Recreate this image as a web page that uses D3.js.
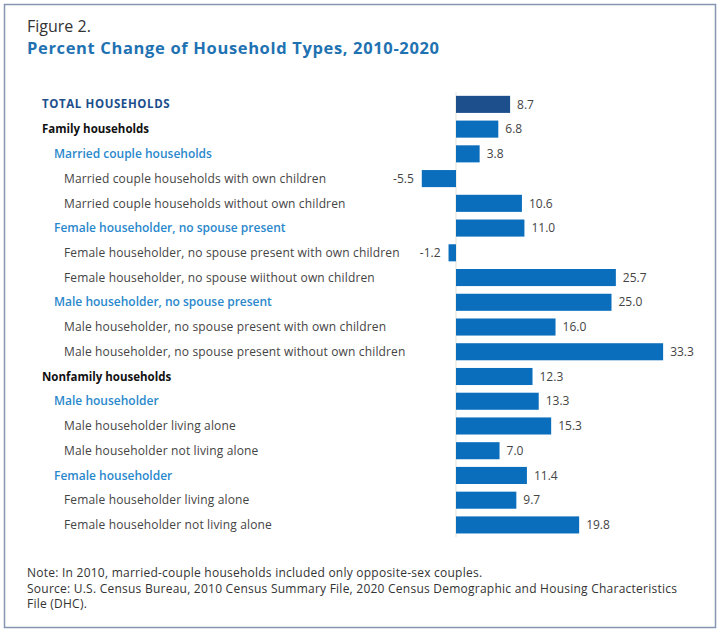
<!DOCTYPE html>
<html>
<head>
<meta charset="utf-8">
<script src="https://cdn.jsdelivr.net/npm/d3@7"></script>
<style>
  body { margin: 0; background: #fff; }
  svg { display: block; font-family: "Open Sans", "Noto Sans", sans-serif; }
</style>
</head>
<body>
<div id="chart"></div>
<script>
// Household categories, in display order
const categories = [
  'TOTAL HOUSEHOLDS',
  'Family households',
  'Married couple households',
  'Married couple households with own children',
  'Married couple households without own children',
  'Female householder, no spouse present',
  'Female householder, no spouse present with own children',
  'Female householder, no spouse wiithout own children',
  'Male householder, no spouse present',
  'Male householder, no spouse present with own children',
  'Male householder, no spouse present without own children',
  'Nonfamily households',
  'Male householder',
  'Male householder living alone',
  'Male householder not living alone',
  'Female householder',
  'Female householder living alone',
  'Female householder not living alone'
];

// Indent level of each category
const levels = [0, 0, 1, 2, 2, 1, 2, 2, 1, 2, 2, 0, 1, 2, 2, 1, 2, 2];

// Percent change 2010-2020
const values = [8.7, 6.8, 3.8, -5.5, 10.6, 11.0, -1.2, 25.7, 25.0, 16.0, 33.3,
                12.3, 13.3, 15.3, 7.0, 11.4, 9.7, 19.8];

const noteLines = [
  'Note: In 2010, married-couple households included only opposite-sex couples.',
  'Source: U.S. Census Bureau, 2010 Census Summary File, 2020 Census Demographic and Housing Characteristics',
  'File (DHC).'
];

const width = 720;
const height = 636;

const svg = d3.select('#chart')
  .append('svg')
  .attr('width', width)
  .attr('height', height);

// Frame
svg.append('rect')
  .attr('x', 4.5)
  .attr('y', 4.5)
  .attr('width', 711)
  .attr('height', 623)
  .attr('fill', '#fff')
  .attr('stroke', '#8796b0')
  .attr('stroke-width', 1.5);

// Titles
svg.append('text')
  .attr('x', 27)
  .attr('y', 31.5)
  .attr('font-size', '16px')
  .attr('fill', '#333')
  .text('Figure 2.');

svg.append('text')
  .attr('x', 27)
  .attr('y', 54)
  .attr('font-size', '16.5px')
  .attr('letter-spacing', '0.65px')
  .attr('font-weight', 'bold')
  .attr('fill', '#1f72b2')
  .text('Percent Change of Household Types, 2010-2020');

// Scales
const y = d3.scaleBand()
  .domain(d3.range(categories.length))
  .range([92, 537.3])
  .paddingInner(0.31)
  .paddingOuter(0.155);

const x = d3.scaleLinear()
  .domain([-10, 40])
  .range([393.8, 704.8]);

const g = svg.append('g');

// Faint zero line
g.append('line')
  .attr('x1', x(0))
  .attr('x2', x(0))
  .attr('y1', y.range()[0])
  .attr('y2', y.range()[1])
  .attr('stroke', '#e6e1d8')
  .attr('stroke-width', 1);

// Bars
g.append('g')
  .selectAll('rect')
  .data(values)
  .join('rect')
  .attr('x', d => x(Math.min(0, d)))
  .attr('y', (d, i) => y(i))
  .attr('width', d => Math.abs(x(d) - x(0)))
  .attr('height', y.bandwidth())
  .attr('fill', (d, i) => i === 0 ? '#1d4f8c' : '#0a6ebd');

// Value labels
g.append('g')
  .selectAll('text')
  .data(values)
  .join('text')
  .attr('x', d => d < 0 ? x(d) - 8 : x(d) + 7)
  .attr('y', (d, i) => y(i) + y.bandwidth() / 2)
  .attr('dy', '0.35em')
  .attr('text-anchor', d => d < 0 ? 'end' : 'start')
  .attr('font-size', '12px')
  .attr('fill', '#444')
  .text(d => d < 0 ? '-' + Math.abs(d).toFixed(1) : d.toFixed(1));

// Category labels
const indent = [42, 54, 64];
const labelStyle = (i) => {
  if (i === 0) return { fill: '#1d4f8c', weight: 'bold', size: '11.5px', ls: '0.6px' };
  if (levels[i] === 0) return { fill: '#111', weight: 'bold', size: '11.5px', ls: '0px' };
  if (levels[i] === 1) return { fill: '#2a88cc', weight: '600', size: '12px', ls: '0px' };
  return { fill: '#444', weight: 'normal', size: '12px', ls: '0.15px' };
};

g.append('g')
  .selectAll('text')
  .data(categories)
  .join('text')
  .attr('x', (d, i) => indent[levels[i]])
  .attr('y', (d, i) => y(i) + y.bandwidth() / 2)
  .attr('dy', '0.35em')
  .attr('font-size', (d, i) => labelStyle(i).size)
  .attr('font-weight', (d, i) => labelStyle(i).weight)
  .attr('letter-spacing', (d, i) => labelStyle(i).ls)
  .attr('fill', (d, i) => labelStyle(i).fill)
  .text(d => d);

// Notes
svg.append('g')
  .selectAll('text')
  .data(noteLines)
  .join('text')
  .attr('x', 27)
  .attr('y', (d, i) => 577 + i * 15.5)
  .attr('font-size', '12px')
  .attr('letter-spacing', '0.24px')
  .attr('fill', '#333')
  .text(d => d);
</script>
</body>
</html>
